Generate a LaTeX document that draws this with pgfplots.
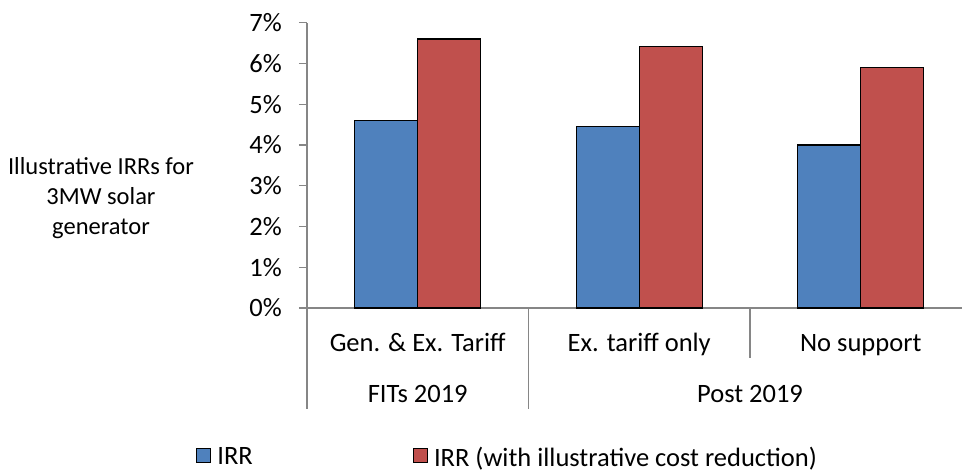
\documentclass[border=0pt]{standalone}
\usepackage{fontspec}
\setmainfont{Carlito}
\usepackage{pgfplots}
\pgfplotsset{compat=1.18}
\definecolor{cblue}{HTML}{4F81BD}
\definecolor{cred}{HTML}{C0504D}
\definecolor{axgray}{HTML}{868686}
\begin{document}
\begin{tikzpicture}[x=1pt,y=1pt,font=\fontsize{26.5}{32}\selectfont]
\useasboundingbox (0,0) rectangle (962,472);
\begin{axis}[
  at={(307pt,164pt)}, anchor=south west,
  scale only axis, width=655pt, height=285.3pt,
  font=\fontsize{26.5}{32}\selectfont,
  xmin=-0.5, xmax=2.457, ymin=0, ymax=7,
  ybar=0pt, bar width=0.284,
  axis x line*=bottom, axis y line*=left,
  axis line style={-, draw=axgray, line width=1.3pt},
  xtick={0,1,2},
  xticklabels={Gen. \& Ex. Tariff, Ex. tariff only, No support},
  x tick style={draw=none},
  xticklabel style={anchor=base, yshift=-35pt, inner sep=0pt},
  ytick={0,1,2,3,4,5,6,7},
  yticklabels={0\%,1\%,2\%,3\%,4\%,5\%,6\%,7\%},
  tick align=outside, major tick length=8pt,
  y tick style={draw=axgray, line width=1.3pt},
  yticklabel style={anchor=east, inner sep=0pt, xshift=-17pt},
  clip=false,
  legend columns=2,
  legend style={at={(-0.1695,-0.523)}, anchor=west, draw=none, fill=none,
    inner sep=0pt, font=\fontsize{26.5}{32}\selectfont,
    /tikz/every even column/.append style={column sep=158pt},
    /tikz/every odd column/.append style={column sep=4pt}},
]
\addplot[fill=cblue, draw=black, line width=1.2pt,
  legend image code/.code={\draw[fill=cblue,draw=black,line width=1.2pt] (0pt,-5pt) rectangle (14pt,9pt);}]
  coordinates {(0,4.6) (1,4.45) (2,4.0)};
\addplot[fill=cred, draw=black, line width=1.2pt,
  legend image code/.code={\draw[fill=cred,draw=black,line width=1.2pt] (0pt,-5pt) rectangle (14pt,9pt);}]
  coordinates {(0,6.6) (1,6.42) (2,5.9)};
\legend{IRR, IRR (with illustrative cost reduction)}
\draw[axgray, line width=1.3pt] (axis cs:-0.5,0) -- ([yshift=-101pt]axis cs:-0.5,0);
\draw[axgray, line width=1.3pt] (axis cs:0.5,0) -- ([yshift=-101pt]axis cs:0.5,0);
\draw[axgray, line width=1.3pt] (axis cs:1.5,0) -- ([yshift=-50pt]axis cs:1.5,0);
\node[anchor=base, yshift=-94pt] at (axis cs:0,0) {FITs 2019};
\node[anchor=base, yshift=-94pt] at (axis cs:1.5,0) {Post 2019};
\end{axis}
\node[align=center, font=\fontsize{24.5}{30}\selectfont] at (101,274) {Illustrative IRRs for\\3MW solar\\generator};
\end{tikzpicture}
\end{document}
